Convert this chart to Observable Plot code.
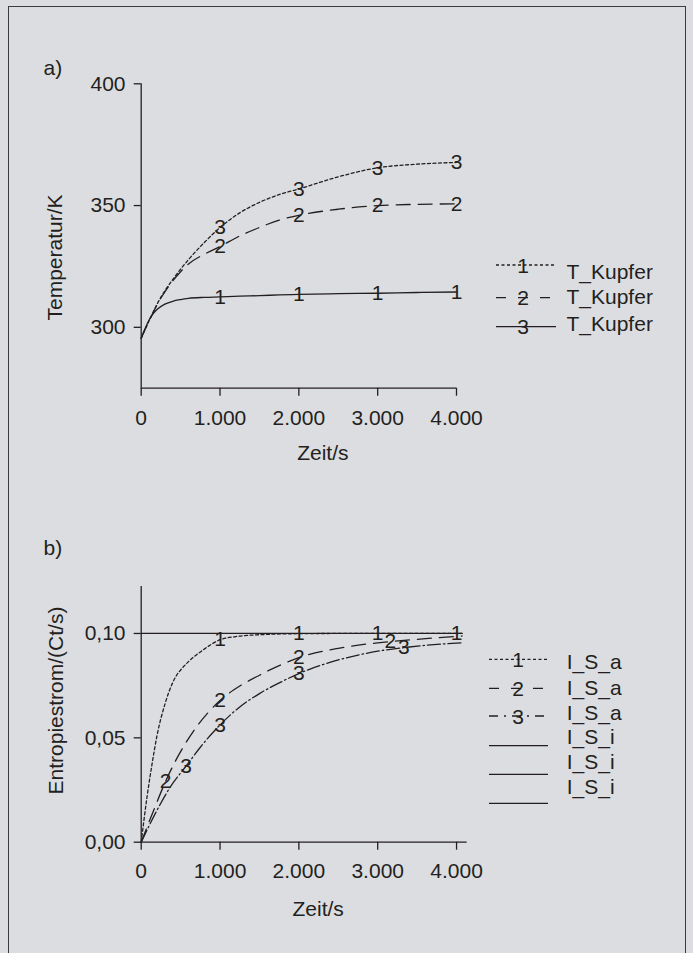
<!DOCTYPE html>
<html><head><meta charset="utf-8">
<script src="https://cdn.jsdelivr.net/npm/d3@7"></script>
<script src="https://cdn.jsdelivr.net/npm/@observablehq/plot@0.6"></script>
<style>
body{margin:0;background:#dcdde0;}
#root{position:relative;width:693px;height:953px;background:#dcdde0;overflow:hidden;font-family:"Liberation Sans",Arial,Helvetica,sans-serif;color:#231f20;}
#frame{position:absolute;left:8px;top:6px;width:676px;height:1200px;border:1.6px solid #3c3c3c;}
.panel{position:absolute;left:0;}
</style></head><body>
<div id="root"><div id="frame"></div><div id="pa" class="panel" style="top:0"></div><div id="pb" class="panel" style="top:480px"></div></div>
<script>
// ---------------- data ----------------
const panelTags = ["a)", "b)"];
const axisTitleX = "Zeit/s";
const axisTitleYA = "Temperatur/K";
const axisTitleYB = "Entropiestrom/(Ct/s)";
const xTicks = [0, 1000, 2000, 3000, 4000];
const yTicksA = [300, 350, 400];
const yTicksB = [0, 0.05, 0.10];
const xDomainA = [0, 4000];
const yDomainA = [275, 400];
const xDomainB = [0, 4135];
const yDomainB = [0, 0.1225];

// panel a: temperatures (K) over time (s)
const timeA = [0, 50, 100, 150, 200, 300, 400, 500, 600, 800, 1000, 1250, 1500, 1750, 2000, 2500, 3000, 3500, 4000];
const tempCurve1 = [295.5, 299.5, 303.0, 305.5, 307.3, 309.5, 310.7, 311.4, 311.9, 312.3, 312.5, 312.8, 313.0, 313.3, 313.5, 313.8, 314.0, 314.3, 314.5];
const tempCurve2 = [295.5, 299.2, 302.6, 306.0, 309.2, 314.5, 319.0, 322.8, 326.0, 330.0, 333.2, 337.5, 341.0, 344.0, 346.0, 348.5, 350.0, 350.5, 350.7];
const tempCurve3 = [295.5, 299.2, 302.7, 306.1, 309.4, 315.0, 319.6, 323.9, 327.8, 334.8, 341.0, 347.0, 351.3, 354.5, 356.8, 361.8, 365.5, 367.0, 367.7];
const labelTimesA = [1000, 2000, 3000, 4000];

// panel b: entropy flow over time (s)
const timeB1 = [0, 75, 140, 200, 300, 400, 450, 500, 600, 800, 1000, 1200, 1500, 2000, 2500, 3000, 4000, 4070];
const flowB1 = [0, 0.022, 0.038, 0.051, 0.066, 0.0765, 0.0800, 0.0825, 0.0865, 0.0925, 0.0970, 0.0985, 0.0994, 0.0999, 0.1, 0.1, 0.1, 0.1];
const timeB2 = [0, 150, 310, 415, 540, 710, 860, 1000, 1250, 1500, 1750, 2000, 2500, 3000, 3160, 3500, 4070];
const flowB2 = [0, 0.0145, 0.0292, 0.0375, 0.046, 0.0557, 0.0626, 0.0679, 0.0748, 0.0800, 0.0846, 0.0884, 0.0929, 0.0955, 0.0961, 0.0972, 0.0988];
const timeB3 = [0, 200, 370, 570, 750, 1000, 1250, 1500, 1750, 2000, 2500, 3000, 3330, 3600, 4070];
const flowB3 = [0, 0.0153, 0.0265, 0.0365, 0.0455, 0.0562, 0.0648, 0.0712, 0.0763, 0.0808, 0.0873, 0.0915, 0.0932, 0.0943, 0.0955];
const timeBi = [0, 4070];
const flowBi = [0.1, 0.1];
const labelTimesB1 = [1000, 2000, 3000, 4000];
const labelTimesB2 = [310, 1000, 2000, 3160];
const labelTimesB3 = [570, 1000, 2000, 3330];

// legends
const legendA = ["T_Kupfer", "T_Kupfer", "T_Kupfer"];
const legendAMarks = ["1", "2", "3"];
const legendB = ["I_S_a", "I_S_a", "I_S_a", "I_S_i", "I_S_i", "I_S_i"];
const legendBMarks = ["1", "2", "3", "", "", ""];

// ---------------- style ----------------
const INK = "#231f20";
const FONT = '"Liberation Sans", Arial, Helvetica, sans-serif';
const FS = 21;
const SW = 1.3;
const DOT = "3,2.5", DASH = "14,8", DASHDOT = "13,3,1.5,3";

const loc = d3.formatLocale({decimal: ",", thousands: ".", grouping: [3], currency: ["", " €"]});
const fmtX = loc.format(",d");
const fmtYB = loc.format(".2f");

const rows = (ts, vs, id) => ts.map((t, i) => ({t, v: vs[i], id}));
const labelRows = (ts, vs, id, at) => at.map(t => ({t, v: vs[ts.indexOf(t)], id}));

const styleObj = {background: "transparent", fontFamily: FONT, fontSize: FS + "px", color: INK, overflow: "visible"};

// ---------------- panel a ----------------
const A1 = rows(timeA, tempCurve1, "1"), A2 = rows(timeA, tempCurve2, "2"), A3 = rows(timeA, tempCurve3, "3");
const labA = [
  ...labelRows(timeA, tempCurve1, "1", labelTimesA),
  ...labelRows(timeA, tempCurve2, "2", labelTimesA),
  ...labelRows(timeA, tempCurve3, "3", labelTimesA)
];
const plotA = Plot.plot({
  width: 693, height: 480,
  marginTop: 83.3, marginBottom: 92.3, marginLeft: 140.7, marginRight: 237,
  style: styleObj,
  x: {domain: xDomainA, axis: null},
  y: {domain: yDomainA, axis: null},
  marks: [
    Plot.axisY({ticks: yTicksA, tickSize: 7, tickPadding: 8.7, tickFormat: d => String(d), label: null, strokeWidth: SW}),
    Plot.axisX({ticks: xTicks, tickSize: 8, tickPadding: 14, tickFormat: fmtX, label: null, strokeWidth: SW}),
    Plot.ruleX([xDomainA[0]], {stroke: INK, strokeWidth: SW}),
    Plot.ruleY([yDomainA[0]], {stroke: INK, strokeWidth: SW}),
    Plot.line(A3, {x: "t", y: "v", stroke: INK, strokeWidth: SW, strokeDasharray: DOT, curve: "monotone-x"}),
    Plot.line(A2, {x: "t", y: "v", stroke: INK, strokeWidth: SW, strokeDasharray: DASH, curve: "monotone-x"}),
    Plot.line(A1, {x: "t", y: "v", stroke: INK, strokeWidth: SW, curve: "monotone-x"}),
    Plot.text(labA, {x: "t", y: "v", text: "id", fill: INK, fontSize: FS, lineAnchor: "middle"}),
    Plot.text([panelTags[0]], {text: d => d, frameAnchor: "top-left", dx: -97.7, dy: -15.3, textAnchor: "start", lineAnchor: "middle", fill: INK, fontSize: FS}),
    Plot.text([axisTitleX], {text: d => d, frameAnchor: "bottom", dx: 24, dy: 64.8, textAnchor: "middle", lineAnchor: "middle", fill: INK, fontSize: FS}),
    Plot.text([axisTitleYA], {text: d => d, frameAnchor: "left", dx: -85.7, dy: 21.5, rotate: -90, textAnchor: "middle", lineAnchor: "middle", fill: INK, fontSize: FS})
  ]
});
document.getElementById("pa").append(plotA);

// ---------------- panel b ----------------
const B1 = rows(timeB1, flowB1, "1"), B2 = rows(timeB2, flowB2, "2"), B3 = rows(timeB3, flowB3, "3"), Bi = rows(timeBi, flowBi, "i");
const labB = [
  ...labelRows(timeB1, flowB1, "1", labelTimesB1),
  ...labelRows(timeB2, flowB2, "2", labelTimesB2),
  ...labelRows(timeB3, flowB3, "3", labelTimesB3)
];
const plotB = Plot.plot({
  width: 693, height: 473,
  marginTop: 106, marginBottom: 111.3, marginLeft: 140.7, marginRight: 226.3,
  style: styleObj,
  x: {domain: xDomainB, axis: null},
  y: {domain: yDomainB, axis: null},
  marks: [
    Plot.axisY({ticks: yTicksB, tickSize: 7, tickPadding: 8.7, tickFormat: fmtYB, label: null, strokeWidth: SW}),
    Plot.axisX({ticks: xTicks, tickSize: 8, tickPadding: 13, tickFormat: fmtX, label: null, strokeWidth: SW}),
    Plot.ruleX([xDomainB[0]], {stroke: INK, strokeWidth: SW}),
    Plot.ruleY([yDomainB[0]], {stroke: INK, strokeWidth: SW}),
    Plot.line(Bi, {x: "t", y: "v", stroke: INK, strokeWidth: SW}),
    Plot.line(B1, {x: "t", y: "v", stroke: INK, strokeWidth: SW, strokeDasharray: DOT, curve: "monotone-x"}),
    Plot.line(B2, {x: "t", y: "v", stroke: INK, strokeWidth: SW, strokeDasharray: DASH, curve: "monotone-x"}),
    Plot.line(B3, {x: "t", y: "v", stroke: INK, strokeWidth: SW, strokeDasharray: DASHDOT, curve: "monotone-x"}),
    Plot.text(labB, {x: "t", y: "v", text: "id", fill: INK, fontSize: FS, lineAnchor: "middle"}),
    Plot.text([panelTags[1]], {text: d => d, frameAnchor: "top-left", dx: -97.7, dy: -38, textAnchor: "start", lineAnchor: "middle", fill: INK, fontSize: FS}),
    Plot.text([axisTitleX], {text: d => d, frameAnchor: "bottom", dx: 14, dy: 67.3, textAnchor: "middle", lineAnchor: "middle", fill: INK, fontSize: FS}),
    Plot.text([axisTitleYB], {text: d => d, frameAnchor: "left", dx: -85.2, dy: -13.85, rotate: -90, textAnchor: "middle", lineAnchor: "middle", fill: INK, fontSize: FS})
  ]
});
document.getElementById("pb").append(plotB);

// ---------------- legends ----------------
const lsvg = d3.select("#root").append("svg")
  .attr("width", 693).attr("height", 953)
  .style("position", "absolute").style("left", "0px").style("top", "0px")
  .attr("font-family", FONT).attr("font-size", FS).attr("fill", INK);

function drawLegend(names, marks, dashes, x0, x1, mx, lineYs, tx, textYs) {
  names.forEach((name, i) => {
    lsvg.append("line").attr("x1", x0).attr("x2", x1).attr("y1", lineYs[i]).attr("y2", lineYs[i])
      .attr("stroke", INK).attr("stroke-width", SW).attr("stroke-dasharray", dashes[i] || null);
    if (marks[i]) lsvg.append("text").attr("x", mx).attr("y", lineYs[i]).attr("dy", "0.36em")
      .attr("text-anchor", "middle").text(marks[i]);
    lsvg.append("text").attr("x", tx).attr("y", textYs[i]).attr("dy", "0.36em").text(name);
  });
}
drawLegend(legendA, legendAMarks, [DOT, "10,12", null], 496, 556, 523,
  [265, 297.7, 326.7], 566.5, [271.5, 296.7, 323]);
drawLegend(legendB, legendBMarks, [DOT, "10,12", "9,6,2,6", null, null, null], 489, 548, 518,
  [659.3, 688.3, 716, 745.7, 774.3, 803.3], 566.7, [661, 687.5, 712.5, 736, 761, 786]);
</script>
</body></html>
